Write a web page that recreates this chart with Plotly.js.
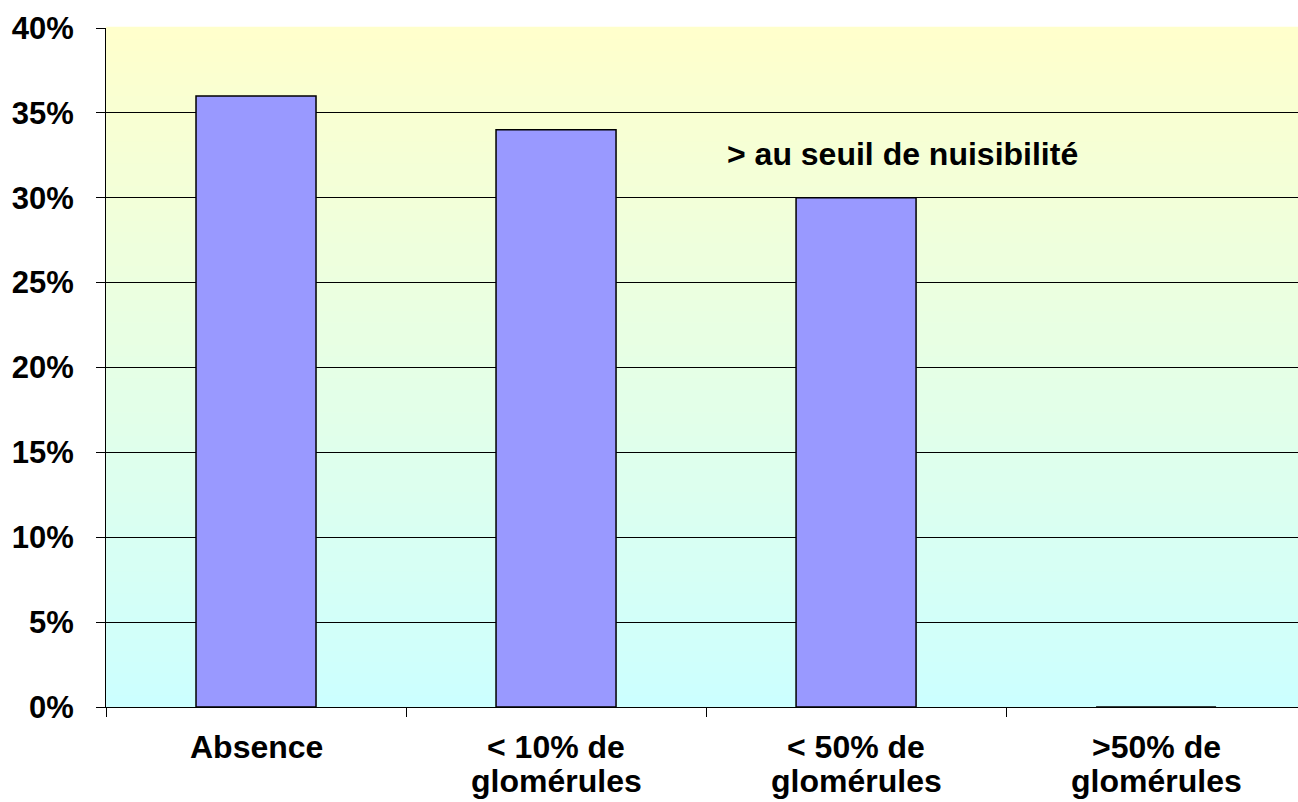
<!DOCTYPE html>
<html>
<head>
<meta charset="utf-8">
<script src="https://cdn.plot.ly/plotly-3.0.1.min.js"></script>
<style>
html,body{margin:0;padding:0;background:#fff;}
#chart{width:1298px;height:802px;}
</style>
</head>
<body>
<div id="chart"></div>
<script>
const categories = ["Absence", "< 10% de<br>glomérules", "< 50% de<br>glomérules", ">50% de<br>glomérules"];
const values = [0.36, 0.34, 0.30, 0];
const yTickVals = [0, 0.05, 0.10, 0.15, 0.20, 0.25, 0.30, 0.35, 0.40];
const yTickText = ["0%", "5%", "10%", "15%", "20%", "25%", "30%", "35%", "40%"];
const noteText = "> au seuil de nuisibilité";

const FONT = "Liberation Sans, Arial, sans-serif";

// vertical gradient background (yellow top -> cyan bottom) as thin bands
const shapes = [];
const nBands = 60;
function lerp(a, b, t) { return Math.round(a + (b - a) * t); }
for (let i = 0; i < nBands; i++) {
  const t = (i + 0.5) / nBands; // 0 at bottom
  const r = lerp(204, 255, t), g = 255, b = lerp(255, 204, t);
  shapes.push({
    type: "rect", xref: "x domain", yref: "y domain", layer: "below",
    x0: 0, x1: 1, y0: i / nBands, y1: (i + 1) / nBands + 0.002,
    fillcolor: `rgb(${r},${g},${b})`, line: { width: 0 }
  });
}

// category labels: one annotation per line, for tighter line spacing
const annotations = [];
categories.forEach(function (cat) {
  cat.split("<br>").forEach(function (line, k) {
    annotations.push({
      text: line, xref: "x", yref: "paper", x: cat, y: 0,
      xanchor: "center", yanchor: "middle", showarrow: false,
      yshift: -40 - 34 * k,
      font: { family: FONT, size: 32, color: "#000", weight: "bold" }
    });
  });
});
annotations.push({
  text: noteText, xref: "x", yref: "y", x: 2.155, y: 0.326,
  showarrow: false, xanchor: "center", yanchor: "middle",
  font: { family: FONT, size: 32, color: "#000", weight: "bold" }
});

const trace = {
  type: "bar",
  x: categories,
  y: values,
  width: 0.4,
  marker: { color: "#9999FF", line: { color: "#000000", width: 1.5 } },
  hoverinfo: "skip"
};

const layout = {
  width: 1298, height: 802,
  margin: { l: 106, r: 0, t: 28, b: 95 },
  paper_bgcolor: "#ffffff",
  plot_bgcolor: "rgba(0,0,0,0)",
  showlegend: false,
  bargap: 0.6,
  font: { family: FONT, color: "#000", size: 32 },
  xaxis: {
    type: "category",
    range: [-0.5, 3.473],
    tickson: "boundaries",
    ticks: "outside", ticklen: 9, tickcolor: "#000", tickwidth: 1,
    showline: true, linecolor: "#000", linewidth: 1,
    showgrid: false, zeroline: false,
    showticklabels: false,
    fixedrange: true
  },
  yaxis: {
    range: [0, 0.4],
    tickvals: yTickVals, ticktext: yTickText,
    ticks: "outside", ticklen: 9, tickcolor: "#000", tickwidth: 1,
    showline: true, linecolor: "#000", linewidth: 1,
    showgrid: true, gridcolor: "#000", gridwidth: 1,
    zeroline: false,
    tickfont: { family: FONT, size: 31, color: "#000", weight: "bold" },
    ticklabelstandoff: 16,
    fixedrange: true
  },
  shapes: shapes,
  annotations: annotations
};

Plotly.newPlot("chart", [trace], layout, { displayModeBar: false, staticPlot: true });
</script>
</body>
</html>
